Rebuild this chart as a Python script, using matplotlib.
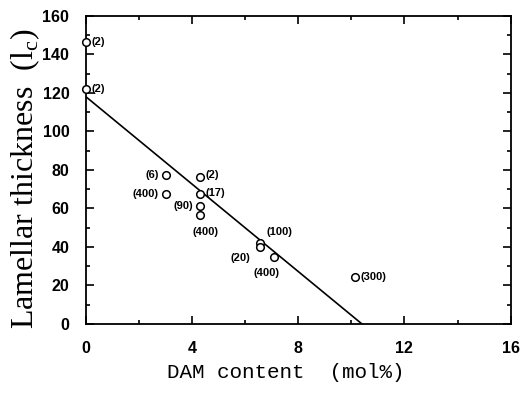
import matplotlib
matplotlib.use("Agg")
import matplotlib.pyplot as plt
from matplotlib.ticker import MultipleLocator

# data
dam_content = [0.0, 0.0, 3.0, 3.0, 4.3, 4.3, 4.3, 4.3, 6.55, 6.55, 7.1, 10.15]
thickness = [146.5, 122.0, 77.5, 67.5, 76.5, 67.5, 61.5, 56.5, 42.0, 40.0, 35.0, 24.5]
point_labels = ["(2)", "(2)", "(6)", "(400)", "(2)", "(17)", "(90)", "(400)",
                "(100)", "(20)", "(400)", "(300)"]

fit_x = [0.0, 10.4]
fit_y = [118.0, 0.0]

# label placement in points relative to each marker
label_offsets = [(4, 0), (4, 0), (-5, 0), (-5, 0), (4, 1), (4, 1), (-5, 0),
                 (4, -12), (14, 8), (-14, -8), (-6, -12), (4, 0)]
label_align = ["left", "left", "right", "right", "left", "left", "right",
               "center", "center", "center", "center", "left"]

tick_font = ["Liberation Sans", "DejaVu Sans"]

fig = plt.figure(figsize=(5.21, 3.98), dpi=100)
ax = fig.add_axes([0.165, 0.186, 0.815, 0.774])

ax.plot(fit_x, fit_y, color="black", linewidth=1.2, zorder=2)
ax.scatter(dam_content, thickness, s=30, facecolors="white", edgecolors="black",
           linewidths=1.1, zorder=3, clip_on=False)

for x, y, lab, off, ha in zip(dam_content, thickness, point_labels, label_offsets, label_align):
    ax.annotate(lab, (x, y), xytext=off, textcoords="offset points",
                ha=ha, va="center", fontsize=8, fontweight="bold",
                family=tick_font)

ax.set_xlim(0, 16)
ax.set_ylim(0, 160)
ax.xaxis.set_major_locator(MultipleLocator(4))
ax.xaxis.set_minor_locator(MultipleLocator(2))
ax.yaxis.set_major_locator(MultipleLocator(20))
ax.yaxis.set_minor_locator(MultipleLocator(10))
ax.tick_params(which="both", direction="in", top=True, right=True, width=1.2)
ax.tick_params(which="major", length=6)
ax.tick_params(which="minor", length=3)
ax.tick_params(axis="x", pad=12)
ax.tick_params(axis="y", pad=12)
for lab in ax.get_xticklabels() + ax.get_yticklabels():
    lab.set_family(tick_font)
    lab.set_fontsize(11.5)
    lab.set_fontweight("bold")

for sp in ax.spines.values():
    sp.set_linewidth(1.3)

ax.set_xlabel("DAM content  (mol%)", family="Liberation Mono", fontsize=15, va="center")
ax.xaxis.set_label_coords(0.471, -0.156)
ax.set_ylabel("Lamellar thickness  (l$_\\mathregular{c}$)", family="Liberation Serif",
              fontsize=23, va="center", ha="center")
ax.yaxis.set_label_coords(-0.1425, 0.471)

fig.savefig("out.png", dpi=100)
